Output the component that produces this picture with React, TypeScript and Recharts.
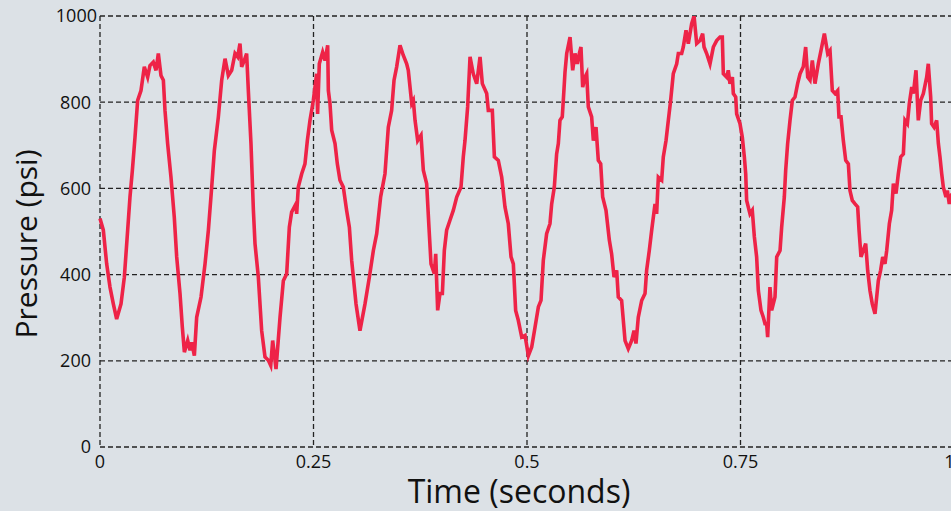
import { LineChart, Line, XAxis, YAxis, CartesianGrid, Label } from "recharts";

// time (s) and pressure (psi)
const TIME = [
  0.0, 0.0039, 0.0078, 0.0117, 0.0156, 0.0195, 0.0246, 0.0285, 0.0324, 0.0351,
  0.0379, 0.041, 0.0441, 0.048, 0.0519, 0.0558, 0.0585, 0.0624, 0.0656, 0.0683,
  0.0714, 0.0742, 0.0761, 0.0792, 0.0831, 0.087, 0.0898, 0.0937, 0.0964, 0.0988,
  0.1027, 0.1054, 0.1073, 0.1105, 0.1132, 0.1183, 0.123, 0.1269, 0.1308, 0.1339,
  0.1386, 0.1425, 0.1464, 0.1503, 0.1542, 0.1581, 0.1612, 0.1639, 0.1659, 0.169,
  0.1717, 0.1737, 0.1768, 0.1796, 0.1815, 0.1854, 0.1893, 0.1932, 0.1971, 0.1999,
  0.2022, 0.2061, 0.2108, 0.2147, 0.2186, 0.2217, 0.2244, 0.2295, 0.2303, 0.2322,
  0.2362, 0.24, 0.2428, 0.2459, 0.2498, 0.2537, 0.2548, 0.2568, 0.2607, 0.2635,
  0.2666, 0.2674, 0.2693, 0.2713, 0.2752, 0.2779, 0.281, 0.2849, 0.2888, 0.292,
  0.2947, 0.2998, 0.3044, 0.3103, 0.3154, 0.3201, 0.324, 0.3286, 0.3337, 0.3376,
  0.3415, 0.3443, 0.3474, 0.3513, 0.3551, 0.3591, 0.361, 0.365, 0.3669, 0.3689,
  0.372, 0.3759, 0.3786, 0.3825, 0.3852, 0.3876, 0.3915, 0.3931, 0.3954, 0.3981,
  0.4009, 0.4032, 0.4059, 0.4098, 0.4137, 0.4177, 0.4227, 0.4254, 0.4274, 0.4305,
  0.4333, 0.4371, 0.4411, 0.445, 0.4477, 0.4528, 0.4547, 0.4594, 0.4618, 0.4664,
  0.4704, 0.4742, 0.4781, 0.4813, 0.484, 0.4867, 0.4898, 0.4938, 0.4977, 0.5016,
  0.5055, 0.5094, 0.5133, 0.5164, 0.5191, 0.523, 0.5269, 0.5289, 0.532, 0.5347,
  0.5367, 0.5386, 0.5413, 0.543, 0.5445, 0.5465, 0.5504, 0.5535, 0.5562, 0.5589,
  0.5613, 0.5632, 0.5652, 0.5679, 0.5699, 0.5718, 0.5757, 0.5777, 0.5808, 0.5835,
  0.5863, 0.5886, 0.5925, 0.5964, 0.5991, 0.6019, 0.605, 0.6069, 0.6108, 0.6148,
  0.6186, 0.6226, 0.6253, 0.6276, 0.6303, 0.6343, 0.6382, 0.6401, 0.6432, 0.646,
  0.6499, 0.6518, 0.6538, 0.6577, 0.6596, 0.6628, 0.6655, 0.6682, 0.6713, 0.6753,
  0.6772, 0.6811, 0.683, 0.6862, 0.6889, 0.6928, 0.6956, 0.6987, 0.7026, 0.7057,
  0.7073, 0.7104, 0.7143, 0.7182, 0.7221, 0.726, 0.7287, 0.7299, 0.7338, 0.7357,
  0.7377, 0.7405, 0.7416, 0.7444, 0.7455, 0.7494, 0.7521, 0.7545, 0.7561, 0.7572,
  0.7611, 0.7638, 0.7662, 0.7689, 0.7709, 0.774, 0.7767, 0.7787, 0.7806, 0.7818,
  0.7845, 0.7865, 0.7884, 0.7904, 0.7924, 0.7963, 0.7982, 0.8013, 0.8029, 0.8052,
  0.808, 0.8107, 0.8138, 0.8169, 0.8197, 0.8235, 0.8263, 0.8287, 0.8314, 0.8341,
  0.8372, 0.8411, 0.8443, 0.8482, 0.8521, 0.8548, 0.8575, 0.8607, 0.8638, 0.8653,
  0.8677, 0.8704, 0.8732, 0.8763, 0.8782, 0.8809, 0.8841, 0.8872, 0.8888, 0.8911,
  0.8938, 0.8966, 0.8989, 0.9016, 0.9043, 0.9075, 0.9114, 0.9141, 0.9165, 0.9192,
  0.9212, 0.9243, 0.927, 0.929, 0.9321, 0.9348, 0.9376, 0.9407, 0.9426, 0.9454,
  0.9477, 0.9505, 0.9524, 0.9555, 0.9582, 0.961, 0.9641, 0.968, 0.9699, 0.9727,
  0.9738, 0.9766, 0.9797, 0.9817, 0.9836, 0.9856, 0.9875, 0.9906, 0.9922, 0.9945,
  0.9965, 1.0,
];

const PRESSURE = [
  530, 503, 425, 371, 332, 297, 332, 394, 503, 580,
  642, 719, 804, 827, 882, 858, 885, 893, 874, 913,
  862, 851, 781, 704, 626, 533, 441, 356, 278, 220,
  247, 224, 243, 212, 301, 348, 425, 503, 603, 688,
  766, 851, 901, 862, 874, 913, 905, 936, 882, 897,
  913, 827, 704, 550, 472, 394, 270, 209, 201, 189,
  247, 181, 301, 386, 402, 510, 545, 564, 541, 603,
  634, 657, 711, 758, 804, 866, 773, 889, 916, 897,
  932, 827, 797, 735, 704, 657, 619, 603, 549, 510,
  433, 332, 270, 332, 394, 456, 495, 580, 634, 742,
  781, 851, 882, 932, 909, 889, 874, 797, 804, 758,
  711, 723, 642, 611, 510, 425, 402, 448, 317, 356,
  356, 456, 503, 526, 549, 580, 603, 673, 711, 789,
  905, 866, 843, 905, 843, 820, 781, 781, 673, 665,
  626, 557, 518, 441, 425, 317, 294, 255, 259, 212,
  232, 278, 325, 340, 433, 495, 518, 564, 603, 680,
  704, 758, 766, 820, 870, 913, 951, 874, 913, 889,
  913, 928, 835, 858, 866, 789, 766, 711, 742, 665,
  657, 580, 549, 480, 448, 394, 410, 348, 340, 247,
  228, 247, 270, 240, 301, 340, 356, 410, 456, 503,
  564, 541, 626, 619, 673, 711, 758, 804, 866, 889,
  913, 913, 928, 967, 936, 982, 1000, 936, 943, 959,
  928, 913, 889, 928, 943, 951, 951, 866, 858, 874,
  843, 858, 820, 812, 773, 750, 719, 673, 634, 572,
  541, 549, 488, 441, 363, 317, 301, 286, 286, 255,
  371, 317, 332, 348, 441, 456, 510, 580, 642, 704,
  758, 804, 812, 843, 866, 882, 928, 858, 851, 897,
  843, 889, 920, 959, 913, 920, 827, 820, 827, 766,
  766, 711, 665, 657, 595, 572, 564, 557, 503, 441,
  456, 472, 410, 363, 332, 309, 386, 410, 441, 425,
  456, 518, 549, 611, 588, 634, 673, 680, 758, 750,
  797, 835, 820, 874, 758, 804, 820, 858, 889, 812,
  750, 742, 758, 704, 673, 634, 603, 580, 595, 564,
  580, 570,
];

const X_TICKS = [0, 0.25, 0.5, 0.75, 1];
const Y_TICKS = [0, 200, 400, 600, 800, 1000];

const data = TIME.map((t, i) => ({ t, p: PRESSURE[i] }));

const FONT = "'Open Sans', 'Noto Sans', sans-serif";
const BG = "#dce1e6";
const LINE = "#ee2347";

const YTick = (props: any) => {
  const { x, y, payload } = props;
  const dx = payload.value === 1000 ? 6 : 0;
  return (
    <text x={x + dx} y={y} dy="0.355em" textAnchor="end" fontSize={18} fontFamily={FONT} fill="#111">
      {payload.value}
    </text>
  );
};

// axis titles sit at fixed spots next to the plot, as in the original
const YTitle = () => {
  const cx = 37;
  const cy = 244;
  return (
    <text x={cx} y={cy} textAnchor="middle" fontSize={30} fontFamily={FONT} fill="#111" transform={`rotate(-90 ${cx} ${cy})`}>
      Pressure (psi)
    </text>
  );
};

const XTitle = () => (
  <text x={519} y={503} textAnchor="middle" fontSize={32} fontFamily={FONT} fill="#111">
    Time (seconds)
  </text>
);

export default function App() {
  return (
    <div style={{ position: "fixed", left: 0, top: 0, width: 951, height: 511, overflow: "hidden", background: BG }}>
      <LineChart width={954} height={511} data={data} margin={{ top: 16, right: 0, bottom: 0, left: 0 }}>
        <CartesianGrid stroke="#222" strokeWidth={1.3} strokeDasharray="5 3" verticalValues={X_TICKS} horizontalValues={Y_TICKS} />
        <XAxis
          dataKey="t"
          type="number"
          domain={[0, 1]}
          ticks={X_TICKS}
          axisLine={false}
          tickLine={false}
          height={64}
          tick={{ fontSize: 18, fontFamily: FONT, fill: "#111" }}
          tickMargin={2}
        >
          <Label content={<XTitle />} />
        </XAxis>
        <YAxis
          type="number"
          domain={[0, 1000]}
          ticks={Y_TICKS}
          allowDataOverflow
          axisLine={false}
          tickLine={false}
          width={100}
          tickMargin={3}
          tick={<YTick />}
        >
          <Label content={<YTitle />} />
        </YAxis>
        <Line
          type="linear"
          dataKey="p"
          stroke={LINE}
          strokeWidth={3.6}
          strokeLinejoin="miter"
          dot={false}
          isAnimationActive={false}
        />
      </LineChart>
    </div>
  );
}
